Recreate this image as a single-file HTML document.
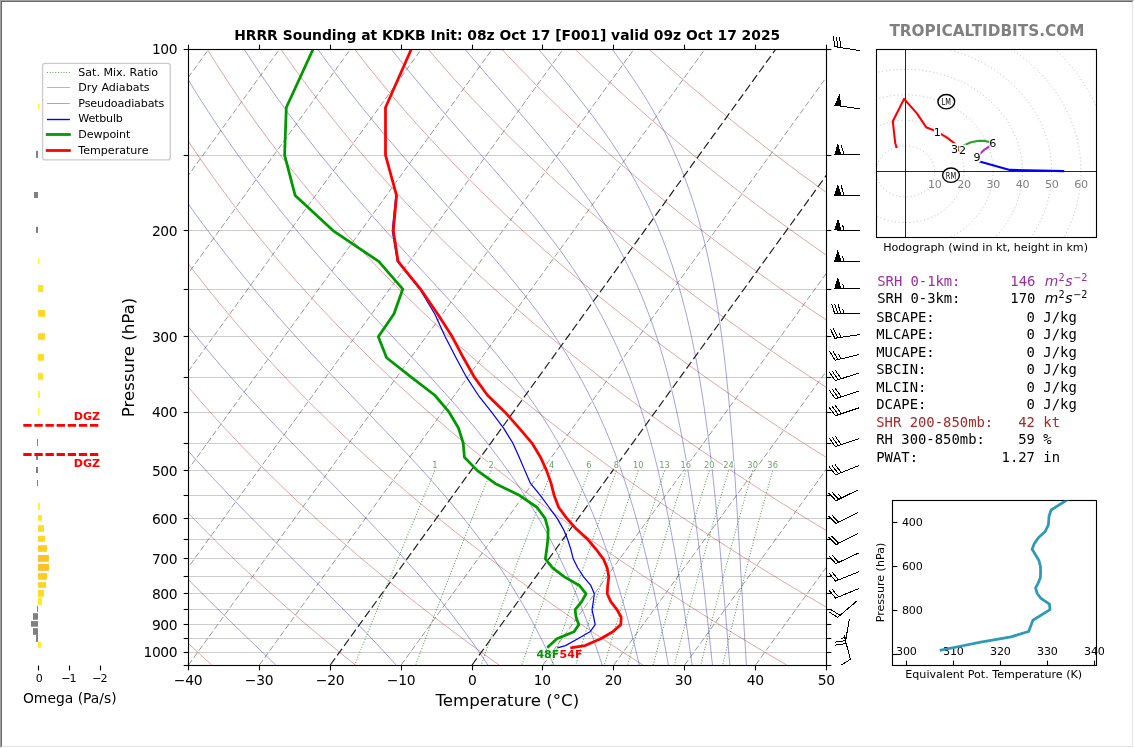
<!DOCTYPE html>
<html lang="en"><head><meta charset="utf-8"><title>HRRR Sounding at KDKB</title>
<style>
html,body{margin:0;padding:0;background:#fff}
body{width:1134px;height:748px;overflow:hidden;position:relative}
#frame{position:absolute;left:0;top:0;width:1132px;height:746px;border-top:1px solid #a0a0a0;border-left:1px solid #a0a0a0;border-right:1px solid #fff;border-bottom:1px solid #fff}
#frame2{position:absolute;left:1px;top:1px;width:1130px;height:744px;border-top:1px solid #696969;border-left:1px solid #696969;border-right:1px solid #e3e3e3;border-bottom:1px solid #e3e3e3}
svg{position:absolute;left:0;top:0;font-family:"DejaVu Sans","Liberation Sans",sans-serif}
</style></head><body>
<div id="frame"></div><div id="frame2"></div>
<svg width="1134" height="748" viewBox="0 0 1134 748">
<defs><clipPath id="cm"><rect x="188.5" y="49.5" width="638" height="616"/></clipPath></defs>
<g clip-path="url(#cm)" fill="none">
<line x1="188.5" y1="155.5" x2="826.5" y2="155.5" stroke="#cdcdcd" stroke-width="1"/>
<line x1="188.5" y1="230.5" x2="826.5" y2="230.5" stroke="#cdcdcd" stroke-width="1"/>
<line x1="188.5" y1="289.5" x2="826.5" y2="289.5" stroke="#cdcdcd" stroke-width="1"/>
<line x1="188.5" y1="336.5" x2="826.5" y2="336.5" stroke="#cdcdcd" stroke-width="1"/>
<line x1="188.5" y1="377.5" x2="826.5" y2="377.5" stroke="#cdcdcd" stroke-width="1"/>
<line x1="188.5" y1="412.5" x2="826.5" y2="412.5" stroke="#cdcdcd" stroke-width="1"/>
<line x1="188.5" y1="443.5" x2="826.5" y2="443.5" stroke="#cdcdcd" stroke-width="1"/>
<line x1="188.5" y1="470.5" x2="826.5" y2="470.5" stroke="#cdcdcd" stroke-width="1"/>
<line x1="188.5" y1="495.5" x2="826.5" y2="495.5" stroke="#cdcdcd" stroke-width="1"/>
<line x1="188.5" y1="518.5" x2="826.5" y2="518.5" stroke="#cdcdcd" stroke-width="1"/>
<line x1="188.5" y1="539.5" x2="826.5" y2="539.5" stroke="#cdcdcd" stroke-width="1"/>
<line x1="188.5" y1="558.5" x2="826.5" y2="558.5" stroke="#cdcdcd" stroke-width="1"/>
<line x1="188.5" y1="576.5" x2="826.5" y2="576.5" stroke="#cdcdcd" stroke-width="1"/>
<line x1="188.5" y1="593.5" x2="826.5" y2="593.5" stroke="#cdcdcd" stroke-width="1"/>
<line x1="188.5" y1="609.5" x2="826.5" y2="609.5" stroke="#cdcdcd" stroke-width="1"/>
<line x1="188.5" y1="624.5" x2="826.5" y2="624.5" stroke="#cdcdcd" stroke-width="1"/>
<line x1="188.5" y1="638.5" x2="826.5" y2="638.5" stroke="#cdcdcd" stroke-width="1"/>
<line x1="188.5" y1="652.5" x2="826.5" y2="652.5" stroke="#cdcdcd" stroke-width="1"/>
<line x1="-236.83" y1="665" x2="208.84" y2="49" stroke="#000" stroke-width="1" stroke-dasharray="6.17 2.67" stroke-opacity="0.4"/>
<line x1="-165.94" y1="665" x2="279.73" y2="49" stroke="#000" stroke-width="1" stroke-dasharray="6.17 2.67" stroke-opacity="0.4"/>
<line x1="-95.06" y1="665" x2="350.62" y2="49" stroke="#000" stroke-width="1" stroke-dasharray="6.17 2.67" stroke-opacity="0.4"/>
<line x1="-24.17" y1="665" x2="421.51" y2="49" stroke="#000" stroke-width="1" stroke-dasharray="6.17 2.67" stroke-opacity="0.4"/>
<line x1="46.72" y1="665" x2="492.4" y2="49" stroke="#000" stroke-width="1" stroke-dasharray="6.17 2.67" stroke-opacity="0.4"/>
<line x1="117.61" y1="665" x2="563.29" y2="49" stroke="#000" stroke-width="1" stroke-dasharray="6.17 2.67" stroke-opacity="0.4"/>
<line x1="188.5" y1="665" x2="634.18" y2="49" stroke="#000" stroke-width="1" stroke-dasharray="6.17 2.67" stroke-opacity="0.4"/>
<line x1="259.39" y1="665" x2="705.06" y2="49" stroke="#000" stroke-width="1" stroke-dasharray="6.17 2.67" stroke-opacity="0.4"/>
<line x1="330.28" y1="665" x2="775.95" y2="49" stroke="#000" stroke-width="1.2" stroke-dasharray="8.2 3.6" stroke-opacity="0.88"/>
<line x1="401.17" y1="665" x2="846.84" y2="49" stroke="#000" stroke-width="1" stroke-dasharray="6.17 2.67" stroke-opacity="0.4"/>
<line x1="472.06" y1="665" x2="917.73" y2="49" stroke="#000" stroke-width="1.2" stroke-dasharray="8.2 3.6" stroke-opacity="0.88"/>
<line x1="542.94" y1="665" x2="988.62" y2="49" stroke="#000" stroke-width="1" stroke-dasharray="6.17 2.67" stroke-opacity="0.4"/>
<line x1="613.83" y1="665" x2="1059.51" y2="49" stroke="#000" stroke-width="1" stroke-dasharray="6.17 2.67" stroke-opacity="0.4"/>
<line x1="684.72" y1="665" x2="1130.4" y2="49" stroke="#000" stroke-width="1" stroke-dasharray="6.17 2.67" stroke-opacity="0.4"/>
<line x1="755.61" y1="665" x2="1201.29" y2="49" stroke="#000" stroke-width="1" stroke-dasharray="6.17 2.67" stroke-opacity="0.4"/>
<line x1="826.5" y1="665" x2="1272.18" y2="49" stroke="#000" stroke-width="1" stroke-dasharray="6.17 2.67" stroke-opacity="0.4"/>
<path d="M-160.74 49 L-158.54 59.27 L-156.24 69.53 L-153.82 79.8 L-151.29 90.07 L-148.65 100.33 L-145.9 110.6 L-143.03 120.87 L-140.05 131.13 L-136.95 141.4 L-133.73 151.67 L-130.39 161.93 L-126.93 172.2 L-123.35 182.47 L-119.65 192.73 L-115.82 203 L-111.87 213.27 L-107.78 223.53 L-103.57 233.8 L-99.23 244.07 L-94.75 254.33 L-90.14 264.6 L-85.4 274.87 L-80.52 285.13 L-75.5 295.4 L-70.34 305.67 L-65.05 315.93 L-59.6 326.2 L-54.02 336.47 L-48.28 346.73 L-42.4 357 L-36.37 367.27 L-30.19 377.53 L-23.86 387.8 L-17.37 398.07 L-10.73 408.33 L-3.93 418.6 L3.04 428.87 L10.16 439.13 L17.45 449.4 L24.9 459.67 L32.52 469.93 L40.3 480.2 L48.26 490.47 L56.39 500.73 L64.7 511 L73.18 521.27 L81.84 531.53 L90.68 541.8 L99.71 552.07 L108.92 562.33 L118.31 572.6 L127.9 582.87 L137.67 593.13 L147.64 603.4 L157.8 613.67 L168.16 623.93 L178.72 634.2 L189.49 644.47 L200.45 654.73 L211.63 665" fill="none" stroke="#b22222" stroke-width="0.9" stroke-opacity="0.45"/>
<path d="M-87.16 49 L-84.13 59.27 L-80.99 69.53 L-77.72 79.8 L-74.34 90.07 L-70.84 100.33 L-67.21 110.6 L-63.46 120.87 L-59.59 131.13 L-55.58 141.4 L-51.45 151.67 L-47.19 161.93 L-42.8 172.2 L-38.27 182.47 L-33.62 192.73 L-28.82 203 L-23.89 213.27 L-18.82 223.53 L-13.61 233.8 L-8.26 244.07 L-2.76 254.33 L2.88 264.6 L8.67 274.87 L14.6 285.13 L20.69 295.4 L26.93 305.67 L33.32 315.93 L39.86 326.2 L46.57 336.47 L53.43 346.73 L60.45 357 L67.64 367.27 L74.98 377.53 L82.5 387.8 L90.18 398.07 L98.03 408.33 L106.05 418.6 L114.25 428.87 L122.62 439.13 L131.17 449.4 L139.9 459.67 L148.81 469.93 L157.9 480.2 L167.18 490.47 L176.64 500.73 L186.3 511 L196.15 521.27 L206.19 531.53 L216.42 541.8 L226.86 552.07 L237.5 562.33 L248.33 572.6 L259.38 582.87 L270.63 593.13 L282.09 603.4 L293.76 613.67 L305.65 623.93 L317.75 634.2 L330.07 644.47 L342.62 654.73 L355.39 665" fill="none" stroke="#b22222" stroke-width="0.9" stroke-opacity="0.45"/>
<path d="M-13.57 49 L-9.72 59.27 L-5.74 69.53 L-1.63 79.8 L2.61 90.07 L6.97 100.33 L11.47 110.6 L16.11 120.87 L20.88 131.13 L25.78 141.4 L30.83 151.67 L36.01 161.93 L41.34 172.2 L46.8 182.47 L52.42 192.73 L58.18 203 L64.09 213.27 L70.14 223.53 L76.35 233.8 L82.72 244.07 L89.23 254.33 L95.91 264.6 L102.74 274.87 L109.73 285.13 L116.88 295.4 L124.2 305.67 L131.68 315.93 L139.33 326.2 L147.15 336.47 L155.14 346.73 L163.31 357 L171.64 367.27 L180.16 377.53 L188.85 387.8 L197.73 398.07 L206.79 408.33 L216.03 418.6 L225.46 428.87 L235.08 439.13 L244.89 449.4 L254.9 459.67 L265.1 469.93 L275.5 480.2 L286.09 490.47 L296.89 500.73 L307.9 511 L319.11 521.27 L330.53 531.53 L342.16 541.8 L354.01 552.07 L366.07 562.33 L378.36 572.6 L390.86 582.87 L403.59 593.13 L416.54 603.4 L429.72 613.67 L443.13 623.93 L456.78 634.2 L470.66 644.47 L484.79 654.73 L499.15 665" fill="none" stroke="#b22222" stroke-width="0.9" stroke-opacity="0.45"/>
<path d="M60.02 49 L64.7 59.27 L69.51 69.53 L74.46 79.8 L79.55 90.07 L84.79 100.33 L90.16 110.6 L95.68 120.87 L101.34 131.13 L107.15 141.4 L113.1 151.67 L119.21 161.93 L125.47 172.2 L131.88 182.47 L138.45 192.73 L145.18 203 L152.06 213.27 L159.11 223.53 L166.32 233.8 L173.69 244.07 L181.22 254.33 L188.93 264.6 L196.81 274.87 L204.85 285.13 L213.08 295.4 L221.47 305.67 L230.05 315.93 L238.8 326.2 L247.74 336.47 L256.86 346.73 L266.16 357 L275.65 367.27 L285.34 377.53 L295.21 387.8 L305.28 398.07 L315.55 408.33 L326.01 418.6 L336.68 428.87 L347.54 439.13 L358.62 449.4 L369.9 459.67 L381.39 469.93 L393.09 480.2 L405.01 490.47 L417.14 500.73 L429.5 511 L442.08 521.27 L454.88 531.53 L467.91 541.8 L481.16 552.07 L494.65 562.33 L508.38 572.6 L522.34 582.87 L536.54 593.13 L550.99 603.4 L565.68 613.67 L580.62 623.93 L595.81 634.2 L611.25 644.47 L626.95 654.73 L642.91 665" fill="none" stroke="#b22222" stroke-width="0.9" stroke-opacity="0.45"/>
<path d="M133.61 49 L139.11 59.27 L144.76 69.53 L150.56 79.8 L156.5 90.07 L162.6 100.33 L168.84 110.6 L175.24 120.87 L181.8 131.13 L188.51 141.4 L195.38 151.67 L202.41 161.93 L209.61 172.2 L216.96 182.47 L224.49 192.73 L232.18 203 L240.04 213.27 L248.07 223.53 L256.28 233.8 L264.66 244.07 L273.22 254.33 L281.96 264.6 L290.88 274.87 L299.98 285.13 L309.27 295.4 L318.74 305.67 L328.41 315.93 L338.27 326.2 L348.32 336.47 L358.57 346.73 L369.02 357 L379.66 367.27 L390.51 377.53 L401.57 387.8 L412.83 398.07 L424.3 408.33 L435.99 418.6 L447.89 428.87 L460 439.13 L472.34 449.4 L484.9 459.67 L497.68 469.93 L510.69 480.2 L523.93 490.47 L537.39 500.73 L551.1 511 L565.04 521.27 L579.22 531.53 L593.65 541.8 L608.32 552.07 L623.23 562.33 L638.4 572.6 L653.82 582.87 L669.5 593.13 L685.44 603.4 L701.64 613.67 L718.1 623.93 L734.83 634.2 L751.84 644.47 L769.12 654.73 L786.67 665" fill="none" stroke="#b22222" stroke-width="0.9" stroke-opacity="0.45"/>
<path d="M207.2 49 L213.53 59.27 L220.01 69.53 L226.65 79.8 L233.45 90.07 L240.41 100.33 L247.53 110.6 L254.81 120.87 L262.26 131.13 L269.87 141.4 L277.66 151.67 L285.61 161.93 L293.74 172.2 L302.04 182.47 L310.52 192.73 L319.18 203 L328.01 213.27 L337.03 223.53 L346.24 233.8 L355.63 244.07 L365.21 254.33 L374.98 264.6 L384.95 274.87 L395.1 285.13 L405.46 295.4 L416.02 305.67 L426.77 315.93 L437.74 326.2 L448.91 336.47 L460.28 346.73 L471.87 357 L483.67 367.27 L495.69 377.53 L507.93 387.8 L520.38 398.07 L533.06 408.33 L545.97 418.6 L559.1 428.87 L572.47 439.13 L586.06 449.4 L599.9 459.67 L613.97 469.93 L628.28 480.2 L642.84 490.47 L657.65 500.73 L672.7 511 L688.01 521.27 L703.57 531.53 L719.39 541.8 L735.47 552.07 L751.81 562.33 L768.42 572.6 L785.3 582.87 L802.46 593.13 L819.89 603.4 L837.6 613.67 L855.59 623.93 L873.86 634.2 L892.43 644.47 L911.28 654.73 L930.43 665" fill="none" stroke="#b22222" stroke-width="0.9" stroke-opacity="0.45"/>
<path d="M280.79 49 L287.94 59.27 L295.26 69.53 L302.75 79.8 L310.4 90.07 L318.22 100.33 L326.21 110.6 L334.38 120.87 L342.72 131.13 L351.24 141.4 L359.94 151.67 L368.81 161.93 L377.87 172.2 L387.12 182.47 L396.55 192.73 L406.18 203 L415.99 213.27 L426 223.53 L436.2 233.8 L446.6 244.07 L457.2 254.33 L468.01 264.6 L479.01 274.87 L490.23 285.13 L501.65 295.4 L513.29 305.67 L525.14 315.93 L537.21 326.2 L549.49 336.47 L562 346.73 L574.73 357 L587.68 367.27 L600.87 377.53 L614.28 387.8 L627.93 398.07 L641.82 408.33 L655.95 418.6 L670.31 428.87 L684.93 439.13 L699.79 449.4 L714.9 459.67 L730.26 469.93 L745.88 480.2 L761.76 490.47 L777.9 500.73 L794.3 511 L810.97 521.27 L827.91 531.53 L845.13 541.8 L862.62 552.07 L880.39 562.33 L898.44 572.6 L916.79 582.87 L935.41 593.13 L954.34 603.4 L973.55 613.67 L993.07 623.93 L1012.89 634.2 L1033.01 644.47 L1053.45 654.73 L1074.2 665" fill="none" stroke="#b22222" stroke-width="0.9" stroke-opacity="0.45"/>
<path d="M354.37 49 L362.36 59.27 L370.51 69.53 L378.84 79.8 L387.35 90.07 L396.03 100.33 L404.9 110.6 L413.95 120.87 L423.18 131.13 L432.6 141.4 L442.21 151.67 L452.01 161.93 L462.01 172.2 L472.2 182.47 L482.59 192.73 L493.18 203 L503.97 213.27 L514.96 223.53 L526.16 233.8 L537.57 244.07 L549.2 254.33 L561.03 264.6 L573.08 274.87 L585.35 285.13 L597.85 295.4 L610.56 305.67 L623.5 315.93 L636.67 326.2 L650.07 336.47 L663.71 346.73 L677.58 357 L691.69 367.27 L706.04 377.53 L720.64 387.8 L735.48 398.07 L750.58 408.33 L765.93 418.6 L781.53 428.87 L797.39 439.13 L813.51 449.4 L829.9 459.67 L846.55 469.93 L863.48 480.2 L880.67 490.47 L898.15 500.73 L915.9 511 L933.94 521.27 L952.26 531.53 L970.87 541.8 L989.77 552.07 L1008.97 562.33 L1028.47 572.6 L1048.27 582.87 L1068.37 593.13 L1088.79 603.4 L1109.51 613.67 L1130.56 623.93 L1151.92 634.2 L1173.6 644.47 L1195.61 654.73 L1217.96 665" fill="none" stroke="#b22222" stroke-width="0.9" stroke-opacity="0.45"/>
<path d="M427.96 49 L436.77 59.27 L445.76 69.53 L454.93 79.8 L464.29 90.07 L473.84 100.33 L483.58 110.6 L493.52 120.87 L503.64 131.13 L513.97 141.4 L524.49 151.67 L535.22 161.93 L546.14 172.2 L557.28 182.47 L568.62 192.73 L580.18 203 L591.94 213.27 L603.92 223.53 L616.12 233.8 L628.55 244.07 L641.19 254.33 L654.06 264.6 L667.15 274.87 L680.48 285.13 L694.04 295.4 L707.83 305.67 L721.87 315.93 L736.14 326.2 L750.66 336.47 L765.42 346.73 L780.44 357 L795.7 367.27 L811.22 377.53 L827 387.8 L843.04 398.07 L859.34 408.33 L875.9 418.6 L892.74 428.87 L909.85 439.13 L927.23 449.4 L944.9 459.67 L962.84 469.93 L981.07 480.2 L999.59 490.47 L1018.4 500.73 L1037.5 511 L1056.9 521.27 L1076.6 531.53 L1096.61 541.8 L1116.92 552.07 L1137.55 562.33 L1158.49 572.6 L1179.75 582.87 L1201.33 593.13 L1223.24 603.4 L1245.47 613.67 L1268.04 623.93 L1290.95 634.2 L1314.19 644.47 L1337.78 654.73 L1361.72 665" fill="none" stroke="#b22222" stroke-width="0.9" stroke-opacity="0.45"/>
<path d="M501.55 49 L511.18 59.27 L521.01 69.53 L531.03 79.8 L541.24 90.07 L551.66 100.33 L562.27 110.6 L573.08 120.87 L584.1 131.13 L595.33 141.4 L606.77 151.67 L618.42 161.93 L630.28 172.2 L642.36 182.47 L654.66 192.73 L667.18 203 L679.92 213.27 L692.89 223.53 L706.09 233.8 L719.52 244.07 L733.18 254.33 L747.08 264.6 L761.22 274.87 L775.6 285.13 L790.23 295.4 L805.11 305.67 L820.23 315.93 L835.61 326.2 L851.24 336.47 L867.14 346.73 L883.29 357 L899.71 367.27 L916.4 377.53 L933.36 387.8 L950.59 398.07 L968.1 408.33 L985.88 418.6 L1003.95 428.87 L1022.31 439.13 L1040.96 449.4 L1059.9 459.67 L1079.13 469.93 L1098.67 480.2 L1118.5 490.47 L1138.65 500.73 L1159.1 511 L1179.87 521.27 L1200.95 531.53 L1222.35 541.8 L1244.08 552.07 L1266.13 562.33 L1288.51 572.6 L1311.23 582.87 L1334.29 593.13 L1357.69 603.4 L1381.43 613.67 L1405.52 623.93 L1429.97 634.2 L1454.78 644.47 L1479.95 654.73 L1505.48 665" fill="none" stroke="#b22222" stroke-width="0.9" stroke-opacity="0.45"/>
<path d="M575.14 49 L585.6 59.27 L596.26 69.53 L607.12 79.8 L618.19 90.07 L629.47 100.33 L640.95 110.6 L652.65 120.87 L664.57 131.13 L676.7 141.4 L689.05 151.67 L701.62 161.93 L714.41 172.2 L727.44 182.47 L740.69 192.73 L754.17 203 L767.89 213.27 L781.85 223.53 L796.05 233.8 L810.49 244.07 L825.17 254.33 L840.11 264.6 L855.29 274.87 L870.73 285.13 L886.42 295.4 L902.38 305.67 L918.6 315.93 L935.08 326.2 L951.83 336.47 L968.85 346.73 L986.15 357 L1003.72 367.27 L1021.57 377.53 L1039.71 387.8 L1058.14 398.07 L1076.85 408.33 L1095.86 418.6 L1115.17 428.87 L1134.77 439.13 L1154.68 449.4 L1174.9 459.67 L1195.42 469.93 L1216.26 480.2 L1237.42 490.47 L1258.9 500.73 L1280.7 511 L1302.83 521.27 L1325.29 531.53 L1348.09 541.8 L1371.23 552.07 L1394.71 562.33 L1418.53 572.6 L1442.71 582.87 L1467.24 593.13 L1492.13 603.4 L1517.39 613.67 L1543.01 623.93 L1569 634.2 L1595.37 644.47 L1622.11 654.73 L1649.24 665" fill="none" stroke="#b22222" stroke-width="0.9" stroke-opacity="0.45"/>
<path d="M648.73 49 L660.01 59.27 L671.51 69.53 L683.22 79.8 L695.14 90.07 L707.28 100.33 L719.64 110.6 L732.22 120.87 L745.03 131.13 L758.06 141.4 L771.32 151.67 L784.82 161.93 L798.55 172.2 L812.52 182.47 L826.72 192.73 L841.17 203 L855.87 213.27 L870.81 223.53 L886.01 233.8 L901.46 244.07 L917.17 254.33 L933.13 264.6 L949.36 274.87 L965.85 285.13 L982.62 295.4 L999.65 305.67 L1016.96 315.93 L1034.55 326.2 L1052.41 336.47 L1070.56 346.73 L1089 357 L1107.73 367.27 L1126.75 377.53 L1146.07 387.8 L1165.69 398.07 L1185.61 408.33 L1205.84 418.6 L1226.38 428.87 L1247.23 439.13 L1268.41 449.4 L1289.9 459.67 L1311.71 469.93 L1333.86 480.2 L1356.34 490.47 L1379.15 500.73 L1402.3 511 L1425.8 521.27 L1449.64 531.53 L1473.83 541.8 L1498.38 552.07 L1523.29 562.33 L1548.56 572.6 L1574.19 582.87 L1600.2 593.13 L1626.58 603.4 L1653.35 613.67 L1680.49 623.93 L1708.03 634.2 L1735.96 644.47 L1764.28 654.73 L1793 665" fill="none" stroke="#b22222" stroke-width="0.9" stroke-opacity="0.45"/>
<path d="M-123.95 49 L-121.41 59.27 L-118.75 69.53 L-115.98 79.8 L-113.09 90.07 L-110.08 100.33 L-106.95 110.6 L-103.7 120.87 L-100.32 131.13 L-96.82 141.4 L-93.2 151.67 L-89.45 161.93 L-85.56 172.2 L-81.55 182.47 L-77.41 192.73 L-73.14 203 L-68.73 213.27 L-64.18 223.53 L-59.5 233.8 L-54.68 244.07 L-49.72 254.33 L-44.62 264.6 L-39.38 274.87 L-33.99 285.13 L-28.45 295.4 L-22.77 305.67 L-16.94 315.93 L-10.96 326.2 L-4.82 336.47 L1.47 346.73 L7.91 357 L14.52 367.27 L21.28 377.53 L28.2 387.8 L35.28 398.07 L42.53 408.33 L49.94 418.6 L57.52 428.87 L65.27 439.13 L73.19 449.4 L81.28 459.67 L89.53 469.93 L97.97 480.2 L106.57 490.47 L115.34 500.73 L124.29 511 L133.41 521.27 L142.7 531.53 L152.15 541.8 L161.77 552.07 L171.54 562.33 L181.47 572.6 L191.54 582.87 L201.74 593.13 L212.07 603.4 L222.51 613.67 L233.03 623.93 L243.64 634.2 L254.3 644.47 L264.99 654.73 L275.69 665" fill="none" stroke="#1a1ab4" stroke-width="1" stroke-opacity="0.4"/>
<path d="M-50.36 49 L-46.99 59.27 L-43.49 69.53 L-39.87 79.8 L-36.12 90.07 L-32.24 100.33 L-28.23 110.6 L-24.09 120.87 L-19.82 131.13 L-15.41 141.4 L-10.87 151.67 L-6.19 161.93 L-1.37 172.2 L3.59 182.47 L8.7 192.73 L13.94 203 L19.33 213.27 L24.87 223.53 L30.55 233.8 L36.39 244.07 L42.37 254.33 L48.51 264.6 L54.81 274.87 L61.25 285.13 L67.86 295.4 L74.63 305.67 L81.55 315.93 L88.64 326.2 L95.89 336.47 L103.31 346.73 L110.9 357 L118.65 367.27 L126.57 377.53 L134.66 387.8 L142.92 398.07 L151.36 408.33 L159.96 418.6 L168.73 428.87 L177.67 439.13 L186.78 449.4 L196.05 459.67 L205.48 469.93 L215.06 480.2 L224.79 490.47 L234.65 500.73 L244.65 511 L254.75 521.27 L264.96 531.53 L275.25 541.8 L285.6 552.07 L295.99 562.33 L306.39 572.6 L316.78 582.87 L327.13 593.13 L337.41 603.4 L347.6 613.67 L357.65 623.93 L367.55 634.2 L377.26 644.47 L386.77 654.73 L396.06 665" fill="none" stroke="#1a1ab4" stroke-width="1" stroke-opacity="0.4"/>
<path d="M23.23 49 L27.42 59.27 L31.74 69.53 L36.2 79.8 L40.8 90.07 L45.53 100.33 L50.41 110.6 L55.42 120.87 L60.58 131.13 L65.89 141.4 L71.34 151.67 L76.94 161.93 L82.69 172.2 L88.59 182.47 L94.64 192.73 L100.84 203 L107.21 213.27 L113.73 223.53 L120.4 233.8 L127.24 244.07 L134.24 254.33 L141.4 264.6 L148.73 274.87 L156.23 285.13 L163.89 295.4 L171.72 305.67 L179.72 315.93 L187.88 326.2 L196.22 336.47 L204.72 346.73 L213.4 357 L222.23 367.27 L231.23 377.53 L240.39 387.8 L249.7 398.07 L259.16 408.33 L268.76 418.6 L278.48 428.87 L288.32 439.13 L298.26 449.4 L308.29 459.67 L318.37 469.93 L328.5 480.2 L338.63 490.47 L348.76 500.73 L358.84 511 L368.85 521.27 L378.75 531.53 L388.52 541.8 L398.12 552.07 L407.54 562.33 L416.74 572.6 L425.7 582.87 L434.42 593.13 L442.87 603.4 L451.05 613.67 L458.95 623.93 L466.57 634.2 L473.91 644.47 L480.99 654.73 L487.79 665" fill="none" stroke="#1a1ab4" stroke-width="1" stroke-opacity="0.4"/>
<path d="M96.81 49 L101.82 59.27 L106.96 69.53 L112.25 79.8 L117.69 90.07 L123.27 100.33 L129.01 110.6 L134.9 120.87 L140.94 131.13 L147.13 141.4 L153.49 151.67 L160 161.93 L166.67 172.2 L173.5 182.47 L180.49 192.73 L187.65 203 L194.97 213.27 L202.46 223.53 L210.11 233.8 L217.94 244.07 L225.93 254.33 L234.09 264.6 L242.41 274.87 L250.9 285.13 L259.56 295.4 L268.38 305.67 L277.35 315.93 L286.47 326.2 L295.74 336.47 L305.15 346.73 L314.67 357 L324.31 367.27 L334.04 377.53 L343.85 387.8 L353.71 398.07 L363.61 408.33 L373.5 418.6 L383.37 428.87 L393.17 439.13 L402.89 449.4 L412.49 459.67 L421.93 469.93 L431.2 480.2 L440.25 490.47 L449.07 500.73 L457.64 511 L465.94 521.27 L473.97 531.53 L481.71 541.8 L489.16 552.07 L496.32 562.33 L503.2 572.6 L509.8 582.87 L516.13 593.13 L522.2 603.4 L528.02 613.67 L533.6 623.93 L538.96 634.2 L544.1 644.47 L549.04 654.73 L553.79 665" fill="none" stroke="#1a1ab4" stroke-width="1" stroke-opacity="0.4"/>
<path d="M170.4 49 L176.21 59.27 L182.17 69.53 L188.29 79.8 L194.56 90.07 L201 100.33 L207.59 110.6 L214.34 120.87 L221.26 131.13 L228.34 141.4 L235.58 151.67 L242.99 161.93 L250.57 172.2 L258.31 182.47 L266.22 192.73 L274.3 203 L282.54 213.27 L290.95 223.53 L299.52 233.8 L308.24 244.07 L317.12 254.33 L326.15 264.6 L335.31 274.87 L344.59 285.13 L353.99 295.4 L363.49 305.67 L373.06 315.93 L382.7 326.2 L392.36 336.47 L402.03 346.73 L411.68 357 L421.26 367.27 L430.76 377.53 L440.14 387.8 L449.36 398.07 L458.4 408.33 L467.22 418.6 L475.8 428.87 L484.13 439.13 L492.18 449.4 L499.94 459.67 L507.41 469.93 L514.58 480.2 L521.46 490.47 L528.04 500.73 L534.34 511 L540.36 521.27 L546.11 531.53 L551.61 541.8 L556.87 552.07 L561.89 562.33 L566.7 572.6 L571.3 582.87 L575.71 593.13 L579.94 603.4 L584 613.67 L587.9 623.93 L591.66 634.2 L595.27 644.47 L598.76 654.73 L602.14 665" fill="none" stroke="#1a1ab4" stroke-width="1" stroke-opacity="0.4"/>
<path d="M243.99 49 L250.65 59.27 L257.47 69.53 L264.46 79.8 L271.61 90.07 L278.92 100.33 L286.4 110.6 L294.04 120.87 L301.85 131.13 L309.82 141.4 L317.95 151.67 L326.25 161.93 L334.71 172.2 L343.32 182.47 L352.08 192.73 L360.97 203 L370.01 213.27 L379.16 223.53 L388.41 233.8 L397.76 244.07 L407.17 254.33 L416.62 264.6 L426.1 274.87 L435.56 285.13 L444.98 295.4 L454.32 305.67 L463.56 315.93 L472.64 326.2 L481.55 336.47 L490.26 346.73 L498.72 357 L506.93 367.27 L514.86 377.53 L522.5 387.8 L529.84 398.07 L536.88 408.33 L543.61 418.6 L550.03 428.87 L556.17 439.13 L562.01 449.4 L567.58 459.67 L572.88 469.93 L577.93 480.2 L582.74 490.47 L587.33 500.73 L591.7 511 L595.87 521.27 L599.85 531.53 L603.65 541.8 L607.3 552.07 L610.79 562.33 L614.13 572.6 L617.35 582.87 L620.44 593.13 L623.42 603.4 L626.3 613.67 L629.07 623.93 L631.76 634.2 L634.37 644.47 L636.89 654.73 L639.35 665" fill="none" stroke="#1a1ab4" stroke-width="1" stroke-opacity="0.4"/>
<path d="M317.58 49 L325.01 59.27 L332.61 69.53 L340.37 79.8 L348.29 90.07 L356.38 100.33 L364.62 110.6 L373.02 120.87 L381.57 131.13 L390.26 141.4 L399.09 151.67 L408.03 161.93 L417.08 172.2 L426.22 182.47 L435.43 192.73 L444.68 203 L453.95 213.27 L463.21 223.53 L472.42 233.8 L481.56 244.07 L490.58 254.33 L499.45 264.6 L508.13 274.87 L516.6 285.13 L524.83 295.4 L532.79 305.67 L540.47 315.93 L547.85 326.2 L554.91 336.47 L561.67 346.73 L568.12 357 L574.26 367.27 L580.09 377.53 L585.64 387.8 L590.91 398.07 L595.91 408.33 L600.65 418.6 L605.15 428.87 L609.43 439.13 L613.49 449.4 L617.35 459.67 L621.02 469.93 L624.52 480.2 L627.86 490.47 L631.04 500.73 L634.08 511 L636.99 521.27 L639.78 531.53 L642.45 541.8 L645.02 552.07 L647.49 562.33 L649.88 572.6 L652.18 582.87 L654.41 593.13 L656.57 603.4 L658.66 613.67 L660.69 623.93 L662.68 634.2 L664.61 644.47 L666.5 654.73 L668.35 665" fill="none" stroke="#1a1ab4" stroke-width="1" stroke-opacity="0.4"/>
<path d="M391.17 49 L399.31 59.27 L407.61 69.53 L416.05 79.8 L424.63 90.07 L433.33 100.33 L442.15 110.6 L451.06 120.87 L460.05 131.13 L469.09 141.4 L478.16 151.67 L487.22 161.93 L496.25 172.2 L505.21 182.47 L514.07 192.73 L522.78 203 L531.31 213.27 L539.63 223.53 L547.71 233.8 L555.52 244.07 L563.05 254.33 L570.27 264.6 L577.18 274.87 L583.77 285.13 L590.05 295.4 L596.01 305.67 L601.66 315.93 L607.02 326.2 L612.09 336.47 L616.88 346.73 L621.42 357 L625.7 367.27 L629.76 377.53 L633.6 387.8 L637.23 398.07 L640.67 408.33 L643.94 418.6 L647.03 428.87 L649.98 439.13 L652.77 449.4 L655.44 459.67 L657.98 469.93 L660.41 480.2 L662.73 490.47 L664.95 500.73 L667.08 511 L669.13 521.27 L671.1 531.53 L673 541.8 L674.84 552.07 L676.62 562.33 L678.34 572.6 L680.01 582.87 L681.64 593.13 L683.22 603.4 L684.77 613.67 L686.29 623.93 L687.78 634.2 L689.24 644.47 L690.68 654.73 L692.09 665" fill="none" stroke="#1a1ab4" stroke-width="1" stroke-opacity="0.4"/>
<path d="M464.76 49 L473.48 59.27 L482.29 69.53 L491.16 79.8 L500.07 90.07 L508.99 100.33 L517.89 110.6 L526.73 120.87 L535.48 131.13 L544.09 141.4 L552.54 151.67 L560.79 161.93 L568.8 172.2 L576.55 182.47 L584.01 192.73 L591.17 203 L598.01 213.27 L604.53 223.53 L610.72 233.8 L616.59 244.07 L622.15 254.33 L627.39 264.6 L632.35 274.87 L637.01 285.13 L641.41 295.4 L645.55 305.67 L649.46 315.93 L653.13 326.2 L656.6 336.47 L659.86 346.73 L662.95 357 L665.86 367.27 L668.61 377.53 L671.21 387.8 L673.68 398.07 L676.01 408.33 L678.23 418.6 L680.34 428.87 L682.35 439.13 L684.26 449.4 L686.09 459.67 L687.84 469.93 L689.51 480.2 L691.12 490.47 L692.66 500.73 L694.15 511 L695.59 521.27 L696.98 531.53 L698.33 541.8 L699.64 552.07 L700.91 562.33 L702.15 572.6 L703.37 582.87 L704.56 593.13 L705.73 603.4 L706.88 613.67 L708.01 623.93 L709.13 634.2 L710.24 644.47 L711.34 654.73 L712.44 665" fill="none" stroke="#1a1ab4" stroke-width="1" stroke-opacity="0.4"/>
<path d="M538.34 49 L547 59.27 L555.59 69.53 L564.07 79.8 L572.41 90.07 L580.57 100.33 L588.52 110.6 L596.22 120.87 L603.64 131.13 L610.76 141.4 L617.58 151.67 L624.06 161.93 L630.22 172.2 L636.05 182.47 L641.56 192.73 L646.75 203 L651.64 213.27 L656.23 223.53 L660.54 233.8 L664.58 244.07 L668.37 254.33 L671.93 264.6 L675.27 274.87 L678.4 285.13 L681.34 295.4 L684.1 305.67 L686.7 315.93 L689.13 326.2 L691.43 336.47 L693.59 346.73 L695.63 357 L697.56 367.27 L699.38 377.53 L701.1 387.8 L702.73 398.07 L704.28 408.33 L705.76 418.6 L707.16 428.87 L708.5 439.13 L709.78 449.4 L711.01 459.67 L712.19 469.93 L713.32 480.2 L714.41 490.47 L715.46 500.73 L716.49 511 L717.48 521.27 L718.45 531.53 L719.39 541.8 L720.31 552.07 L721.22 562.33 L722.1 572.6 L722.98 582.87 L723.85 593.13 L724.71 603.4 L725.56 613.67 L726.41 623.93 L727.26 634.2 L728.11 644.47 L728.95 654.73 L729.81 665" fill="none" stroke="#1a1ab4" stroke-width="1" stroke-opacity="0.4"/>
<path d="M611.93 49 L619.53 59.27 L626.87 69.53 L633.9 79.8 L640.62 90.07 L647.02 100.33 L653.07 110.6 L658.8 120.87 L664.19 131.13 L669.26 141.4 L674.01 151.67 L678.46 161.93 L682.63 172.2 L686.51 182.47 L690.15 192.73 L693.54 203 L696.7 213.27 L699.65 223.53 L702.4 233.8 L704.97 244.07 L707.37 254.33 L709.61 264.6 L711.7 274.87 L713.66 285.13 L715.49 295.4 L717.2 305.67 L718.81 315.93 L720.32 326.2 L721.73 336.47 L723.06 346.73 L724.31 357 L725.49 367.27 L726.61 377.53 L727.66 387.8 L728.66 398.07 L729.61 408.33 L730.51 418.6 L731.37 428.87 L732.19 439.13 L732.98 449.4 L733.74 459.67 L734.47 469.93 L735.17 480.2 L735.85 490.47 L736.52 500.73 L737.17 511 L737.8 521.27 L738.43 531.53 L739.04 541.8 L739.65 552.07 L740.25 562.33 L740.85 572.6 L741.45 582.87 L742.05 593.13 L742.65 603.4 L743.26 613.67 L743.87 623.93 L744.49 634.2 L745.11 644.47 L745.75 654.73 L746.4 665" fill="none" stroke="#1a1ab4" stroke-width="1" stroke-opacity="0.4"/>
<path d="M434.79 470.63 L430.68 480.35 L426.58 490.07 L422.5 499.79 L418.42 509.51 L414.35 519.22 L410.3 528.94 L406.26 538.66 L402.22 548.38 L398.2 558.1 L394.2 567.82 L390.2 577.53 L386.21 587.25 L382.24 596.97 L378.28 606.69 L374.33 616.41 L370.39 626.13 L366.46 635.84 L362.55 645.56 L358.65 655.28 L354.76 665" fill="none" stroke="#006400" stroke-width="1.04" stroke-dasharray="1.04 1.72" stroke-opacity="0.62"/>
<path d="M491.12 470.63 L487.23 480.35 L483.35 490.07 L479.48 499.79 L475.62 509.51 L471.78 519.22 L467.94 528.94 L464.13 538.66 L460.32 548.38 L456.53 558.1 L452.75 567.82 L448.98 577.53 L445.22 587.25 L441.48 596.97 L437.75 606.69 L434.04 616.41 L430.34 626.13 L426.65 635.84 L422.98 645.56 L419.32 655.28 L415.67 665" fill="none" stroke="#006400" stroke-width="1.04" stroke-dasharray="1.04 1.72" stroke-opacity="0.62"/>
<path d="M551.55 470.63 L547.9 480.35 L544.26 490.07 L540.64 499.79 L537.03 509.51 L533.43 519.22 L529.85 528.94 L526.28 538.66 L522.72 548.38 L519.18 558.1 L515.66 567.82 L512.15 577.53 L508.65 587.25 L505.17 596.97 L501.7 606.69 L498.25 616.41 L494.81 626.13 L491.39 635.84 L487.98 645.56 L484.59 655.28 L481.21 665" fill="none" stroke="#006400" stroke-width="1.04" stroke-dasharray="1.04 1.72" stroke-opacity="0.62"/>
<path d="M588.94 470.63 L585.44 480.35 L581.96 490.07 L578.49 499.79 L575.03 509.51 L571.59 519.22 L568.17 528.94 L564.76 538.66 L561.36 548.38 L557.98 558.1 L554.62 567.82 L551.27 577.53 L547.94 587.25 L544.62 596.97 L541.32 606.69 L538.04 616.41 L534.77 626.13 L531.52 635.84 L528.28 645.56 L525.06 655.28 L521.86 665" fill="none" stroke="#006400" stroke-width="1.04" stroke-dasharray="1.04 1.72" stroke-opacity="0.62"/>
<path d="M616.41 470.63 L613.02 480.35 L609.66 490.07 L606.3 499.79 L602.97 509.51 L599.64 519.22 L596.34 528.94 L593.05 538.66 L589.77 548.38 L586.52 558.1 L583.27 567.82 L580.05 577.53 L576.84 587.25 L573.65 596.97 L570.47 606.69 L567.31 616.41 L564.17 626.13 L561.04 635.84 L557.94 645.56 L554.85 655.28 L551.77 665" fill="none" stroke="#006400" stroke-width="1.04" stroke-dasharray="1.04 1.72" stroke-opacity="0.62"/>
<path d="M638.26 470.63 L634.97 480.35 L631.7 490.07 L628.44 499.79 L625.19 509.51 L621.97 519.22 L618.76 528.94 L615.56 538.66 L612.39 548.38 L609.23 558.1 L606.08 567.82 L602.96 577.53 L599.85 587.25 L596.76 596.97 L593.68 606.69 L590.62 616.41 L587.58 626.13 L584.56 635.84 L581.56 645.56 L578.57 655.28 L575.6 665" fill="none" stroke="#006400" stroke-width="1.04" stroke-dasharray="1.04 1.72" stroke-opacity="0.62"/>
<path d="M664.57 470.63 L661.39 480.35 L658.23 490.07 L655.09 499.79 L651.96 509.51 L648.85 519.22 L645.76 528.94 L642.68 538.66 L639.62 548.38 L636.58 558.1 L633.56 567.82 L630.55 577.53 L627.57 587.25 L624.6 596.97 L621.64 606.69 L618.71 616.41 L615.8 626.13 L612.9 635.84 L610.02 645.56 L607.16 655.28 L604.32 665" fill="none" stroke="#006400" stroke-width="1.04" stroke-dasharray="1.04 1.72" stroke-opacity="0.62"/>
<path d="M685.86 470.63 L682.77 480.35 L679.7 490.07 L676.65 499.79 L673.62 509.51 L670.61 519.22 L667.61 528.94 L664.63 538.66 L661.67 548.38 L658.73 558.1 L655.8 567.82 L652.89 577.53 L650.01 587.25 L647.14 596.97 L644.29 606.69 L641.46 616.41 L638.64 626.13 L635.85 635.84 L633.08 645.56 L630.32 655.28 L627.59 665" fill="none" stroke="#006400" stroke-width="1.04" stroke-dasharray="1.04 1.72" stroke-opacity="0.62"/>
<path d="M709.18 470.63 L706.19 480.35 L703.23 490.07 L700.29 499.79 L697.36 509.51 L694.45 519.22 L691.56 528.94 L688.69 538.66 L685.83 548.38 L683 558.1 L680.18 567.82 L677.39 577.53 L674.61 587.25 L671.85 596.97 L669.12 606.69 L666.4 616.41 L663.7 626.13 L661.02 635.84 L658.36 645.56 L655.73 655.28 L653.11 665" fill="none" stroke="#006400" stroke-width="1.04" stroke-dasharray="1.04 1.72" stroke-opacity="0.62"/>
<path d="M728.56 470.63 L725.67 480.35 L722.79 490.07 L719.93 499.79 L717.09 509.51 L714.27 519.22 L711.47 528.94 L708.69 538.66 L705.93 548.38 L703.19 558.1 L700.46 567.82 L697.76 577.53 L695.08 587.25 L692.41 596.97 L689.77 606.69 L687.15 616.41 L684.55 626.13 L681.96 635.84 L679.4 645.56 L676.86 655.28 L674.34 665" fill="none" stroke="#006400" stroke-width="1.04" stroke-dasharray="1.04 1.72" stroke-opacity="0.62"/>
<path d="M752.67 470.63 L749.88 480.35 L747.12 490.07 L744.37 499.79 L741.64 509.51 L738.93 519.22 L736.24 528.94 L733.58 538.66 L730.93 548.38 L728.3 558.1 L725.69 567.82 L723.11 577.53 L720.54 587.25 L718 596.97 L715.47 606.69 L712.97 616.41 L710.49 626.13 L708.03 635.84 L705.59 645.56 L703.18 655.28 L700.78 665" fill="none" stroke="#006400" stroke-width="1.04" stroke-dasharray="1.04 1.72" stroke-opacity="0.62"/>
<path d="M772.65 470.63 L769.96 480.35 L767.28 490.07 L764.63 499.79 L761.99 509.51 L759.38 519.22 L756.79 528.94 L754.21 538.66 L751.66 548.38 L749.13 558.1 L746.62 567.82 L744.13 577.53 L741.67 587.25 L739.22 596.97 L736.8 606.69 L734.4 616.41 L732.02 626.13 L729.66 635.84 L727.32 645.56 L725.01 655.28 L722.72 665" fill="none" stroke="#006400" stroke-width="1.04" stroke-dasharray="1.04 1.72" stroke-opacity="0.62"/>
<rect x="431.79" y="461" width="6" height="8.4" fill="#fff" stroke="none"/>
<text x="434.79" y="468.2" font-size="8.33" text-anchor="middle" fill="#006400" fill-opacity="0.6" stroke="none">1</text>
<rect x="488.12" y="461" width="6" height="8.4" fill="#fff" stroke="none"/>
<text x="491.12" y="468.2" font-size="8.33" text-anchor="middle" fill="#006400" fill-opacity="0.6" stroke="none">2</text>
<rect x="548.55" y="461" width="6" height="8.4" fill="#fff" stroke="none"/>
<text x="551.55" y="468.2" font-size="8.33" text-anchor="middle" fill="#006400" fill-opacity="0.6" stroke="none">4</text>
<rect x="585.94" y="461" width="6" height="8.4" fill="#fff" stroke="none"/>
<text x="588.94" y="468.2" font-size="8.33" text-anchor="middle" fill="#006400" fill-opacity="0.6" stroke="none">6</text>
<rect x="613.41" y="461" width="6" height="8.4" fill="#fff" stroke="none"/>
<text x="616.41" y="468.2" font-size="8.33" text-anchor="middle" fill="#006400" fill-opacity="0.6" stroke="none">8</text>
<rect x="632.61" y="461" width="11.3" height="8.4" fill="#fff" stroke="none"/>
<text x="638.26" y="468.2" font-size="8.33" text-anchor="middle" fill="#006400" fill-opacity="0.6" stroke="none">10</text>
<rect x="658.92" y="461" width="11.3" height="8.4" fill="#fff" stroke="none"/>
<text x="664.57" y="468.2" font-size="8.33" text-anchor="middle" fill="#006400" fill-opacity="0.6" stroke="none">13</text>
<rect x="680.21" y="461" width="11.3" height="8.4" fill="#fff" stroke="none"/>
<text x="685.86" y="468.2" font-size="8.33" text-anchor="middle" fill="#006400" fill-opacity="0.6" stroke="none">16</text>
<rect x="703.53" y="461" width="11.3" height="8.4" fill="#fff" stroke="none"/>
<text x="709.18" y="468.2" font-size="8.33" text-anchor="middle" fill="#006400" fill-opacity="0.6" stroke="none">20</text>
<rect x="722.91" y="461" width="11.3" height="8.4" fill="#fff" stroke="none"/>
<text x="728.56" y="468.2" font-size="8.33" text-anchor="middle" fill="#006400" fill-opacity="0.6" stroke="none">24</text>
<rect x="747.02" y="461" width="11.3" height="8.4" fill="#fff" stroke="none"/>
<text x="752.67" y="468.2" font-size="8.33" text-anchor="middle" fill="#006400" fill-opacity="0.6" stroke="none">30</text>
<rect x="767" y="461" width="11.3" height="8.4" fill="#fff" stroke="none"/>
<text x="772.65" y="468.2" font-size="8.33" text-anchor="middle" fill="#006400" fill-opacity="0.6" stroke="none">36</text>
</g>
<g clip-path="url(#cm)" fill="none" stroke-linejoin="round">
<path d="M395.8 195.6 L392.3 230.59 L397.3 261.44 L419.7 289.04 L434.8 314.01 L445.2 336.81 L456 357.78 L466.5 377.19 L478.3 395.27 L491.6 412.17 L503.6 428.06 L512.8 443.03 L519.2 457.19 L524.9 470.63 L530.5 483.41 L540.5 495.6 L549 507.25 L557.2 518.4 L563.3 529.09 L567.6 539.36 L570.8 549.25 L573.2 558.78 L577.8 567.97 L583.6 576.85 L590.8 585.44 L594.3 593.76 L593.3 601.82 L592 609.64 L593.7 617.24 L595.2 624.62 L590 631.79 L577.8 638.78 L565.5 645.59 L557.4 647.81" fill="none" stroke="#0000ff" stroke-width="1.25"/>
<path d="M313.2 49 L286.3 107.46 L284.6 155.22 L295.2 195.6 L333 230.59 L378.7 261.44 L402.8 289.04 L393.9 314.01 L378.3 336.81 L386.6 357.78 L411.2 377.19 L434.8 395.27 L449.1 412.17 L458.5 428.06 L463.2 443.03 L464.4 457.19 L477.4 470.63 L495.1 483.41 L519.8 495.6 L536.9 507.25 L545.1 518.4 L548.1 529.09 L547.9 539.36 L546.7 549.25 L545.4 558.78 L552.6 567.97 L564.4 576.85 L579.4 585.44 L586.1 593.76 L581.5 601.82 L575.1 609.64 L576.1 617.24 L578.8 624.62 L574 631.79 L556.9 638.78 L549.5 645.59 L547.3 647.81" fill="none" stroke="#009900" stroke-width="2.78"/>
<path d="M411.4 49 L385.5 107.46 L385.5 155.22 L396.6 195.6 L393.3 230.59 L398.1 261.44 L420.5 289.04 L437.7 314.01 L452.3 336.81 L463.4 357.78 L474.4 377.19 L487.5 395.27 L505 412.17 L519.2 428.06 L532 443.03 L540.5 457.19 L546.6 470.63 L551.1 483.41 L554.2 495.6 L558.6 507.25 L566.8 518.4 L576.5 529.09 L587.7 539.36 L596 549.25 L603.3 558.78 L607.2 567.97 L608.8 576.85 L607.7 585.44 L607.2 593.76 L610.9 601.82 L617 609.64 L621.2 617.24 L620.8 624.62 L612.8 631.79 L600.7 638.78 L585.2 645.59 L570.3 647.81" fill="none" stroke="#ff0000" stroke-width="2.78"/>
</g>
<text transform="translate(547.8 657.6) scale(1 0.93)" font-size="11" font-weight="bold" text-anchor="middle" fill="#009900">48F</text>
<text transform="translate(571.0 657.6) scale(1 0.93)" font-size="11" font-weight="bold" text-anchor="middle" fill="#ff0000">54F</text>
<rect x="188.5" y="49.5" width="638" height="616" fill="none" stroke="#000" stroke-width="1.11"/>
<line x1="188.5" y1="665.5" x2="188.5" y2="670.36" stroke="#000" stroke-width="1.11"/>
<line x1="188.5" y1="49.5" x2="188.5" y2="44.64" stroke="#000" stroke-width="1.11"/>
<text x="188.05" y="684.9" font-size="13.89" text-anchor="middle" fill="#000" letter-spacing="-0.3">−40</text>
<line x1="259.5" y1="665.5" x2="259.5" y2="670.36" stroke="#000" stroke-width="1.11"/>
<line x1="259.5" y1="49.5" x2="259.5" y2="44.64" stroke="#000" stroke-width="1.11"/>
<text x="259.05" y="684.9" font-size="13.89" text-anchor="middle" fill="#000" letter-spacing="-0.3">−30</text>
<line x1="330.5" y1="665.5" x2="330.5" y2="670.36" stroke="#000" stroke-width="1.11"/>
<line x1="330.5" y1="49.5" x2="330.5" y2="44.64" stroke="#000" stroke-width="1.11"/>
<text x="330.05" y="684.9" font-size="13.89" text-anchor="middle" fill="#000" letter-spacing="-0.3">−20</text>
<line x1="401.5" y1="665.5" x2="401.5" y2="670.36" stroke="#000" stroke-width="1.11"/>
<line x1="401.5" y1="49.5" x2="401.5" y2="44.64" stroke="#000" stroke-width="1.11"/>
<text x="401.05" y="684.9" font-size="13.89" text-anchor="middle" fill="#000" letter-spacing="-0.3">−10</text>
<line x1="472.5" y1="665.5" x2="472.5" y2="670.36" stroke="#000" stroke-width="1.11"/>
<line x1="472.5" y1="49.5" x2="472.5" y2="44.64" stroke="#000" stroke-width="1.11"/>
<text x="472.35" y="684.9" font-size="13.89" text-anchor="middle" fill="#000" letter-spacing="-0.3">0</text>
<line x1="542.5" y1="665.5" x2="542.5" y2="670.36" stroke="#000" stroke-width="1.11"/>
<line x1="542.5" y1="49.5" x2="542.5" y2="44.64" stroke="#000" stroke-width="1.11"/>
<text x="542.2" y="684.9" font-size="13.89" text-anchor="middle" fill="#000" letter-spacing="-0.3">10</text>
<line x1="613.5" y1="665.5" x2="613.5" y2="670.36" stroke="#000" stroke-width="1.11"/>
<line x1="613.5" y1="49.5" x2="613.5" y2="44.64" stroke="#000" stroke-width="1.11"/>
<text x="613.2" y="684.9" font-size="13.89" text-anchor="middle" fill="#000" letter-spacing="-0.3">20</text>
<line x1="684.5" y1="665.5" x2="684.5" y2="670.36" stroke="#000" stroke-width="1.11"/>
<line x1="684.5" y1="49.5" x2="684.5" y2="44.64" stroke="#000" stroke-width="1.11"/>
<text x="683.4" y="684.9" font-size="13.89" text-anchor="middle" fill="#000" letter-spacing="-0.3">30</text>
<line x1="755.5" y1="665.5" x2="755.5" y2="670.36" stroke="#000" stroke-width="1.11"/>
<line x1="755.5" y1="49.5" x2="755.5" y2="44.64" stroke="#000" stroke-width="1.11"/>
<text x="755.2" y="684.9" font-size="13.89" text-anchor="middle" fill="#000" letter-spacing="-0.3">40</text>
<line x1="826.5" y1="665.5" x2="826.5" y2="670.36" stroke="#000" stroke-width="1.11"/>
<line x1="826.5" y1="49.5" x2="826.5" y2="44.64" stroke="#000" stroke-width="1.11"/>
<text x="826.2" y="684.9" font-size="13.89" text-anchor="middle" fill="#000" letter-spacing="-0.3">50</text>
<line x1="188.5" y1="49.5" x2="183.64" y2="49.5" stroke="#000" stroke-width="1.11"/>
<line x1="826.5" y1="49.5" x2="831.36" y2="49.5" stroke="#000" stroke-width="1.11"/>
<text x="177.2" y="54.1" font-size="13.89" text-anchor="end" fill="#000" letter-spacing="-0.42">100</text>
<line x1="188.5" y1="155.5" x2="183.64" y2="155.5" stroke="#000" stroke-width="1.11"/>
<line x1="826.5" y1="155.5" x2="831.36" y2="155.5" stroke="#000" stroke-width="1.11"/>
<line x1="188.5" y1="230.5" x2="183.64" y2="230.5" stroke="#000" stroke-width="1.11"/>
<line x1="826.5" y1="230.5" x2="831.36" y2="230.5" stroke="#000" stroke-width="1.11"/>
<text x="177.2" y="235.69" font-size="13.89" text-anchor="end" fill="#000" letter-spacing="-0.42">200</text>
<line x1="188.5" y1="289.5" x2="183.64" y2="289.5" stroke="#000" stroke-width="1.11"/>
<line x1="826.5" y1="289.5" x2="831.36" y2="289.5" stroke="#000" stroke-width="1.11"/>
<line x1="188.5" y1="336.5" x2="183.64" y2="336.5" stroke="#000" stroke-width="1.11"/>
<line x1="826.5" y1="336.5" x2="831.36" y2="336.5" stroke="#000" stroke-width="1.11"/>
<text x="177.2" y="341.91" font-size="13.89" text-anchor="end" fill="#000" letter-spacing="-0.42">300</text>
<line x1="188.5" y1="377.5" x2="183.64" y2="377.5" stroke="#000" stroke-width="1.11"/>
<line x1="826.5" y1="377.5" x2="831.36" y2="377.5" stroke="#000" stroke-width="1.11"/>
<line x1="188.5" y1="412.5" x2="183.64" y2="412.5" stroke="#000" stroke-width="1.11"/>
<line x1="826.5" y1="412.5" x2="831.36" y2="412.5" stroke="#000" stroke-width="1.11"/>
<text x="177.2" y="417.27" font-size="13.89" text-anchor="end" fill="#000" letter-spacing="-0.42">400</text>
<line x1="188.5" y1="443.5" x2="183.64" y2="443.5" stroke="#000" stroke-width="1.11"/>
<line x1="826.5" y1="443.5" x2="831.36" y2="443.5" stroke="#000" stroke-width="1.11"/>
<line x1="188.5" y1="470.5" x2="183.64" y2="470.5" stroke="#000" stroke-width="1.11"/>
<line x1="826.5" y1="470.5" x2="831.36" y2="470.5" stroke="#000" stroke-width="1.11"/>
<text x="177.2" y="475.73" font-size="13.89" text-anchor="end" fill="#000" letter-spacing="-0.42">500</text>
<line x1="188.5" y1="495.5" x2="183.64" y2="495.5" stroke="#000" stroke-width="1.11"/>
<line x1="826.5" y1="495.5" x2="831.36" y2="495.5" stroke="#000" stroke-width="1.11"/>
<line x1="188.5" y1="518.5" x2="183.64" y2="518.5" stroke="#000" stroke-width="1.11"/>
<line x1="826.5" y1="518.5" x2="831.36" y2="518.5" stroke="#000" stroke-width="1.11"/>
<text x="177.2" y="523.5" font-size="13.89" text-anchor="end" fill="#000" letter-spacing="-0.42">600</text>
<line x1="188.5" y1="539.5" x2="183.64" y2="539.5" stroke="#000" stroke-width="1.11"/>
<line x1="826.5" y1="539.5" x2="831.36" y2="539.5" stroke="#000" stroke-width="1.11"/>
<line x1="188.5" y1="558.5" x2="183.64" y2="558.5" stroke="#000" stroke-width="1.11"/>
<line x1="826.5" y1="558.5" x2="831.36" y2="558.5" stroke="#000" stroke-width="1.11"/>
<text x="177.2" y="563.88" font-size="13.89" text-anchor="end" fill="#000" letter-spacing="-0.42">700</text>
<line x1="188.5" y1="576.5" x2="183.64" y2="576.5" stroke="#000" stroke-width="1.11"/>
<line x1="826.5" y1="576.5" x2="831.36" y2="576.5" stroke="#000" stroke-width="1.11"/>
<line x1="188.5" y1="593.5" x2="183.64" y2="593.5" stroke="#000" stroke-width="1.11"/>
<line x1="826.5" y1="593.5" x2="831.36" y2="593.5" stroke="#000" stroke-width="1.11"/>
<text x="177.2" y="598.86" font-size="13.89" text-anchor="end" fill="#000" letter-spacing="-0.42">800</text>
<line x1="188.5" y1="609.5" x2="183.64" y2="609.5" stroke="#000" stroke-width="1.11"/>
<line x1="826.5" y1="609.5" x2="831.36" y2="609.5" stroke="#000" stroke-width="1.11"/>
<line x1="188.5" y1="624.5" x2="183.64" y2="624.5" stroke="#000" stroke-width="1.11"/>
<line x1="826.5" y1="624.5" x2="831.36" y2="624.5" stroke="#000" stroke-width="1.11"/>
<text x="177.2" y="629.72" font-size="13.89" text-anchor="end" fill="#000" letter-spacing="-0.42">900</text>
<line x1="188.5" y1="638.5" x2="183.64" y2="638.5" stroke="#000" stroke-width="1.11"/>
<line x1="826.5" y1="638.5" x2="831.36" y2="638.5" stroke="#000" stroke-width="1.11"/>
<line x1="188.5" y1="652.5" x2="183.64" y2="652.5" stroke="#000" stroke-width="1.11"/>
<line x1="826.5" y1="652.5" x2="831.36" y2="652.5" stroke="#000" stroke-width="1.11"/>
<text x="177.2" y="657.32" font-size="13.89" text-anchor="end" fill="#000" letter-spacing="-0.42">1000</text>
<line x1="188.5" y1="665.5" x2="183.64" y2="665.5" stroke="#000" stroke-width="1.11"/>
<line x1="826.5" y1="665.5" x2="831.36" y2="665.5" stroke="#000" stroke-width="1.11"/>
<text x="507.3" y="706.3" font-size="16.67" text-anchor="middle" fill="#000">Temperature (°C)</text>
<text transform="translate(134.3 357.5) rotate(-90)" font-size="16.67" text-anchor="middle">Pressure (hPa)</text>
<text x="507.2" y="40.1" font-size="13.89" text-anchor="middle" fill="#000" font-weight="bold">HRRR Sounding at KDKB Init: 08z Oct 17 [F001] valid 09z Oct 17 2025</text>
<g fill="#000" stroke="#000" stroke-width="1" stroke-linejoin="miter" shape-rendering="crispEdges">
<polygon points="859.55,50.56 834.85,46.64 833.33,36.28 834.85,46.64 837.94,47.13 836.42,36.77 837.94,47.13 841.03,47.62 839.5,37.26 841.03,47.62"/>
<polygon points="859.58,108.8 834.82,105.32 839.31,95.85 841.01,106.19"/>
<polygon points="859.7,154.82 834.7,154.82 837.83,144.82 840.95,154.82 844.08,154.82 840.95,144.82 844.08,154.82"/>
<polygon points="859.7,195.2 834.7,195.2 837.83,185.2 840.95,195.2 844.08,195.2 840.95,185.2 844.08,195.2"/>
<polygon points="859.7,230.4 834.7,229.97 838,220.02 840.95,230.08 844.08,230.13 842.6,225.11 844.08,230.13"/>
<polygon points="859.7,261.04 834.7,261.04 837.83,251.04 840.95,261.04 844.08,261.04 842.51,256.04 844.08,261.04"/>
<polygon points="859.7,288.64 834.7,288.64 837.83,278.64 840.95,288.64 844.08,288.64 842.51,283.64 844.08,288.64"/>
<polygon points="859.7,313.61 834.7,313.61 831.58,303.61 834.7,313.61 837.83,313.61 834.7,303.61 837.83,313.61 840.95,313.61 837.83,303.61 840.95,313.61 844.08,313.61 842.51,308.61 844.08,313.61"/>
<polygon points="859.56,334.56 834.84,338.26 830.27,328.83 834.84,338.26 837.93,337.79 833.36,328.37 837.93,337.79 841.02,337.33 838.73,332.62 841.02,337.33"/>
<polygon points="859.35,354.46 835.05,360.3 829.67,351.3 835.05,360.3 838.08,359.57 832.71,350.57 838.08,359.57 841.12,358.84 838.44,354.34 841.12,358.84"/>
<polygon points="859.09,372.93 835.31,380.65 829.25,372.11 835.31,380.65 838.28,379.69 832.22,371.14 838.28,379.69 841.26,378.72 835.19,370.18 841.26,378.72"/>
<polygon points="859.09,391 835.31,398.73 829.25,390.18 835.31,398.73 838.28,397.76 832.22,389.22 838.28,397.76 841.26,396.8 835.19,388.25 841.26,396.8"/>
<polygon points="859.05,407.81 835.35,415.74 829.21,407.25 835.35,415.74 838.31,414.75 832.17,406.26 838.31,414.75 841.27,413.76 835.14,405.27 841.27,413.76"/>
<polygon points="859.05,438.66 835.35,446.6 829.21,438.1 835.35,446.6 838.31,445.6 832.17,437.11 838.31,445.6 841.27,444.61 835.14,436.12 841.27,444.61"/>
<polygon points="858.83,465.65 835.57,474.81 829,466.65 835.57,474.81 838.48,473.67 831.9,465.51 838.48,473.67 841.38,472.52 834.81,464.36 841.38,472.52"/>
<polygon points="858.41,489.66 835.99,500.74 828.76,493.16 835.99,500.74 838.8,499.35 831.56,491.77 838.8,499.35 841.6,497.97 837.98,494.18 841.6,497.97"/>
<polygon points="858.34,512.32 836.06,523.67 828.74,516.18 836.06,523.67 838.85,522.25 831.52,514.76 838.85,522.25"/>
<polygon points="858.31,533.23 836.09,544.7 828.73,537.24 836.09,544.7 838.87,543.26 831.51,535.81 838.87,543.26"/>
<polygon points="858.51,553.06 835.89,563.7 828.8,555.98 835.89,563.7 838.72,562.37 831.63,554.65 838.72,562.37"/>
<polygon points="858.81,571.81 835.59,581.1 828.98,572.97 835.59,581.1 838.5,579.93 831.88,571.81 838.5,579.93"/>
<polygon points="858.76,588.6 835.64,598.12 828.94,590.07 835.64,598.12 838.53,596.93 831.83,588.88 838.53,596.93"/>
<polygon points="856.71,601.12 837.69,617.36 828.82,611.79 837.69,617.36 840.07,615.33 831.2,609.76 840.07,615.33"/>
<polygon points="849.26,619.07 845.14,643.72 834.76,645.15 845.14,643.72 845.65,640.64 835.27,642.07 845.65,640.64 846.17,637.56 840.98,638.27 846.17,637.56"/>
<polygon points="843.96,635.12 850.44,659.27 841.58,664.87 850.44,659.27"/>
</g>
<g shape-rendering="auto">
<rect x="38" y="103.8" width="1.1" height="6.2" fill="#fff926"/>
<rect x="36" y="150.8" width="2" height="7.1" fill="#808080"/>
<rect x="34" y="192" width="4" height="6" fill="#808080"/>
<rect x="36" y="226.8" width="2" height="6.1" fill="#808080"/>
<rect x="38" y="257.9" width="1.1" height="6" fill="#fff926"/>
<rect x="38" y="285" width="5.1" height="7" fill="#ffe226"/>
<rect x="38" y="310" width="7.1" height="6.8" fill="#ffd726"/>
<rect x="38" y="333.2" width="7.1" height="6.6" fill="#ffd726"/>
<rect x="38" y="353.9" width="6" height="6.9" fill="#ffdd26"/>
<rect x="38" y="372.9" width="5.1" height="6.9" fill="#ffe226"/>
<rect x="38" y="391" width="2" height="6.8" fill="#fff426"/>
<rect x="38" y="408.1" width="1" height="6.7" fill="#fff926"/>
<rect x="37" y="439.1" width="1" height="6.8" fill="#808080"/>
<rect x="36" y="453.2" width="2" height="6.7" fill="#808080"/>
<rect x="36" y="467" width="2" height="6" fill="#808080"/>
<rect x="37" y="480" width="1" height="6" fill="#808080"/>
<rect x="38" y="503" width="2" height="6.9" fill="#fff426"/>
<rect x="38" y="515.1" width="4" height="5.7" fill="#ffe926"/>
<rect x="38" y="525.1" width="6" height="6.7" fill="#ffdd26"/>
<rect x="38" y="535.9" width="7.1" height="5.9" fill="#ffd726"/>
<rect x="38" y="545.2" width="9" height="6.6" fill="#ffcd26"/>
<rect x="38" y="555" width="10.9" height="6.85" fill="#ffc226"/>
<rect x="38" y="564" width="11" height="6.8" fill="#ffc126"/>
<rect x="38" y="573" width="9" height="6.7" fill="#ffcd26"/>
<rect x="38" y="582.1" width="8" height="5.7" fill="#ffd226"/>
<rect x="38" y="590" width="6" height="6.8" fill="#ffdd26"/>
<rect x="38" y="598" width="4" height="6.9" fill="#ffe926"/>
<rect x="37" y="605.8" width="1" height="6" fill="#808080"/>
<rect x="33" y="613.2" width="5" height="6.55" fill="#808080"/>
<rect x="31" y="621.1" width="7" height="5.6" fill="#808080"/>
<rect x="33" y="628.2" width="5" height="6.6" fill="#808080"/>
<rect x="36" y="634.8" width="2" height="7.1" fill="#808080"/>
<rect x="38" y="641.9" width="3" height="6" fill="#ffee26"/>
</g>
<line x1="38.5" y1="665.5" x2="38.5" y2="670.4" stroke="#000" stroke-width="1.11"/>
<text x="39.35" y="681.8" font-size="11.11" text-anchor="middle" fill="#000" letter-spacing="0">0</text>
<line x1="69.5" y1="665.5" x2="69.5" y2="670.4" stroke="#000" stroke-width="1.11"/>
<text x="68.5" y="681.8" font-size="11.11" text-anchor="middle" fill="#000" letter-spacing="-1">−1</text>
<line x1="100.5" y1="665.5" x2="100.5" y2="670.4" stroke="#000" stroke-width="1.11"/>
<text x="99.5" y="681.8" font-size="11.11" text-anchor="middle" fill="#000" letter-spacing="-1">−2</text>
<text x="69.8" y="702.6" font-size="13.89" text-anchor="middle" fill="#000">Omega (Pa/s)</text>
<line x1="23.3" y1="425.4" x2="98.6" y2="425.4" stroke="#ff0000" stroke-width="2.78" stroke-dasharray="8.33 2.78"/>
<line x1="23.3" y1="454.5" x2="98.6" y2="454.5" stroke="#ff0000" stroke-width="2.78" stroke-dasharray="8.33 2.78"/>
<text x="100.2" y="420.4" font-size="11.11" text-anchor="end" fill="#ff0000" font-weight="bold">DGZ</text>
<text x="100.2" y="467.2" font-size="11.11" text-anchor="end" fill="#ff0000" font-weight="bold">DGZ</text>
<rect x="42.6" y="63.4" width="127.7" height="96.5" rx="2.4" ry="2.4" fill="#fff" fill-opacity="0.8" stroke="#cccccc" stroke-width="1.39"/>
<line x1="46.9" y1="72.5" x2="69.9" y2="72.5" stroke="#006400" stroke-width="1.04" stroke-dasharray="1.04 1.72" stroke-opacity="0.62"/>
<text x="78.3" y="75.8" font-size="11.11" text-anchor="start" fill="#000" letter-spacing="-0.03">Sat. Mix. Ratio</text>
<line x1="46.9" y1="87.5" x2="69.9" y2="87.5" stroke="#b22222" stroke-width="0.9" stroke-opacity="0.45"/>
<text x="78.3" y="90.85" font-size="11.11" text-anchor="start" fill="#000" letter-spacing="-0.03">Dry Adiabats</text>
<line x1="46.9" y1="103.5" x2="69.9" y2="103.5" stroke="#1a1ab4" stroke-width="1" stroke-opacity="0.4"/>
<text x="78.3" y="106.7" font-size="11.11" text-anchor="start" fill="#000" letter-spacing="-0.13">Pseudoadiabats</text>
<line x1="46.9" y1="119.5" x2="69.9" y2="119.5" stroke="#0000ff" stroke-width="1.39"/>
<text x="78.3" y="121.75" font-size="11.11" text-anchor="start" fill="#000" letter-spacing="-0.2">Wetbulb</text>
<line x1="47.2" y1="134.5" x2="69.4" y2="134.5" stroke="#009900" stroke-width="2.78" stroke-linecap="square"/>
<text x="78.3" y="137.8" font-size="11.11" text-anchor="start" fill="#000" letter-spacing="-0.1">Dewpoint</text>
<line x1="47.2" y1="150.5" x2="69.4" y2="150.5" stroke="#ff0000" stroke-width="2.78" stroke-linecap="square"/>
<text x="78.3" y="153.7" font-size="11.11" text-anchor="start" fill="#000" letter-spacing="-0.02">Temperature</text>
<defs><clipPath id="ch"><rect x="876.5" y="49.5" width="220" height="188"/></clipPath></defs>
<g clip-path="url(#ch)" fill="none">
<ellipse cx="905.5" cy="171.5" rx="29.25" ry="25.56" stroke="#808080" stroke-opacity="0.6" stroke-width="0.8" stroke-dasharray="1.1 2.58"/>
<ellipse cx="905.5" cy="171.5" rx="58.5" ry="51.12" stroke="#808080" stroke-opacity="0.6" stroke-width="0.8" stroke-dasharray="1.1 2.58"/>
<ellipse cx="905.5" cy="171.5" rx="87.75" ry="76.68" stroke="#808080" stroke-opacity="0.6" stroke-width="0.8" stroke-dasharray="1.1 2.58"/>
<ellipse cx="905.5" cy="171.5" rx="117" ry="102.24" stroke="#808080" stroke-opacity="0.6" stroke-width="0.8" stroke-dasharray="1.1 2.58"/>
<ellipse cx="905.5" cy="171.5" rx="146.25" ry="127.8" stroke="#808080" stroke-opacity="0.6" stroke-width="0.8" stroke-dasharray="1.1 2.58"/>
<ellipse cx="905.5" cy="171.5" rx="175.5" ry="153.36" stroke="#808080" stroke-opacity="0.6" stroke-width="0.8" stroke-dasharray="1.1 2.58"/>
<ellipse cx="905.5" cy="171.5" rx="204.75" ry="178.92" stroke="#808080" stroke-opacity="0.6" stroke-width="0.8" stroke-dasharray="1.1 2.58"/>
<ellipse cx="905.5" cy="171.5" rx="234" ry="204.48" stroke="#808080" stroke-opacity="0.6" stroke-width="0.8" stroke-dasharray="1.1 2.58"/>
<ellipse cx="905.5" cy="171.5" rx="263.25" ry="230.04" stroke="#808080" stroke-opacity="0.6" stroke-width="0.8" stroke-dasharray="1.1 2.58"/>
<ellipse cx="905.5" cy="171.5" rx="292.5" ry="255.6" stroke="#808080" stroke-opacity="0.6" stroke-width="0.8" stroke-dasharray="1.1 2.58"/>
<ellipse cx="905.5" cy="171.5" rx="321.75" ry="281.16" stroke="#808080" stroke-opacity="0.6" stroke-width="0.8" stroke-dasharray="1.1 2.58"/>
<ellipse cx="905.5" cy="171.5" rx="351" ry="306.72" stroke="#808080" stroke-opacity="0.6" stroke-width="0.8" stroke-dasharray="1.1 2.58"/>
<line x1="876.5" y1="171.5" x2="1096.5" y2="171.5" stroke="#000" stroke-width="1" stroke-opacity="0.85"/>
<line x1="905.5" y1="49.5" x2="905.5" y2="237.5" stroke="#000" stroke-width="1" stroke-opacity="0.85"/>
</g>
<text x="934.75" y="188.4" font-size="11.11" text-anchor="middle" fill="#808080" letter-spacing="-0.3">10</text>
<text x="964" y="188.4" font-size="11.11" text-anchor="middle" fill="#808080" letter-spacing="-0.3">20</text>
<text x="993.25" y="188.4" font-size="11.11" text-anchor="middle" fill="#808080" letter-spacing="-0.3">30</text>
<text x="1022.5" y="188.4" font-size="11.11" text-anchor="middle" fill="#808080" letter-spacing="-0.3">40</text>
<text x="1051.75" y="188.4" font-size="11.11" text-anchor="middle" fill="#808080" letter-spacing="-0.3">50</text>
<text x="1081" y="188.4" font-size="11.11" text-anchor="middle" fill="#808080" letter-spacing="-0.3">60</text>
<g clip-path="url(#ch)" fill="none" stroke-linejoin="round">
<path d="M896.7 148 L895.2 143 L892.8 121.2 L904.1 98.9 L916.9 113.4 L926.1 127.2 L937.4 131.8 L947 137.6 L954 143 L958 147 L962.5 150.4 L958.5 150.3 L954.5 149" fill="none" stroke="#ff0000" stroke-width="2.08"/>
<path d="M954.5 149 L958.3 148.3 L964.3 145.1 L971 142.3 L978.9 140.7 L985 140.9 L992.8 142.8" fill="none" stroke="#2ca02c" stroke-width="2.08"/>
<path d="M992.8 142.8 L989.5 146.5 L984.5 149.6 L980.3 153.6 L977 157.3" fill="none" stroke="#ba30c8" stroke-width="2.08"/>
<path d="M977 157.3 L979.6 161.4 L1009.8 169.9 L1064.2 171.1" fill="none" stroke="#0000ff" stroke-width="2.08"/>
</g>
<rect x="933.9" y="126" width="7" height="10.6" fill="#fff"/>
<rect x="959.1" y="144.6" width="7" height="10.6" fill="#fff"/>
<rect x="951.1" y="143.2" width="7" height="10.6" fill="#fff"/>
<rect x="989.3" y="137" width="7" height="10.6" fill="#fff"/>
<rect x="973.5" y="151.5" width="7" height="10.6" fill="#fff"/>
<text x="937.4" y="135.85" font-size="11.11" text-anchor="middle" fill="#000">1</text>
<text x="962.6" y="154.45" font-size="11.11" text-anchor="middle" fill="#000">2</text>
<text x="954.6" y="153.05" font-size="11.11" text-anchor="middle" fill="#000">3</text>
<text x="992.8" y="146.85" font-size="11.11" text-anchor="middle" fill="#000">6</text>
<text x="977" y="161.35" font-size="11.11" text-anchor="middle" fill="#000">9</text>
<ellipse cx="946.3" cy="101.7" rx="8.4" ry="7.2" fill="#fff" stroke="#000" stroke-width="1.39"/>
<text transform="translate(946.3 105.05) scale(0.8 1)" font-size="9.2" text-anchor="middle" font-family="'DejaVu Sans Condensed','DejaVu Sans','Liberation Sans',sans-serif">LM</text>
<ellipse cx="951" cy="175.2" rx="8.4" ry="7.2" fill="#fff" stroke="#000" stroke-width="1.39"/>
<text transform="translate(951 178.55) scale(0.8 1)" font-size="9.2" text-anchor="middle" font-family="'DejaVu Sans Condensed','DejaVu Sans','Liberation Sans',sans-serif">RM</text>
<rect x="876.5" y="49.5" width="220" height="188" fill="none" stroke="#000" stroke-width="1.11"/>
<text x="985.6" y="251" font-size="11.11" text-anchor="middle" fill="#000">Hodograph (wind in kt, height in km)</text>
<text x="986.9" y="36.2" font-size="15.28" text-anchor="middle" fill="#808080" font-weight="bold">TROPICALTIDBITS.COM</text>
<text x="877.3" y="285.9" font-size="13.89" fill="#9a2ea0" font-family="'DejaVu Sans Mono','Liberation Mono',monospace" letter-spacing="-0.04" xml:space="preserve">SRH 0-1km:      146</text>
<text y="285.9" font-size="13.89" fill="#9a2ea0" font-style="italic"><tspan x="1044.64">m</tspan><tspan x="1058.44" dy="-5.35" font-size="9.72" font-style="normal">2</tspan><tspan x="1065.14" dy="5.35">s</tspan><tspan x="1073.14" dy="-5.35" font-size="9.72" font-style="normal">−2</tspan></text>
<text x="877.3" y="303" font-size="13.89" fill="#000" font-family="'DejaVu Sans Mono','Liberation Mono',monospace" letter-spacing="-0.04" xml:space="preserve">SRH 0-3km:      170</text>
<text y="303" font-size="13.89" fill="#000" font-style="italic"><tspan x="1044.64">m</tspan><tspan x="1058.44" dy="-5.35" font-size="9.72" font-style="normal">2</tspan><tspan x="1065.14" dy="5.35">s</tspan><tspan x="1073.14" dy="-5.35" font-size="9.72" font-style="normal">−2</tspan></text>
<text x="876.25" y="322" font-size="13.89" fill="#000" font-family="'DejaVu Sans Mono','Liberation Mono',monospace" letter-spacing="0" xml:space="preserve">SBCAPE:           0 J/kg</text>
<text x="876.25" y="339.4" font-size="13.89" fill="#000" font-family="'DejaVu Sans Mono','Liberation Mono',monospace" letter-spacing="0" xml:space="preserve">MLCAPE:           0 J/kg</text>
<text x="876.25" y="356.8" font-size="13.89" fill="#000" font-family="'DejaVu Sans Mono','Liberation Mono',monospace" letter-spacing="0" xml:space="preserve">MUCAPE:           0 J/kg</text>
<text x="876.25" y="374.2" font-size="13.89" fill="#000" font-family="'DejaVu Sans Mono','Liberation Mono',monospace" letter-spacing="0" xml:space="preserve">SBCIN:            0 J/kg</text>
<text x="876.25" y="391.6" font-size="13.89" fill="#000" font-family="'DejaVu Sans Mono','Liberation Mono',monospace" letter-spacing="0" xml:space="preserve">MLCIN:            0 J/kg</text>
<text x="876.25" y="409" font-size="13.89" fill="#000" font-family="'DejaVu Sans Mono','Liberation Mono',monospace" letter-spacing="0" xml:space="preserve">DCAPE:            0 J/kg</text>
<text x="876.25" y="427.1" font-size="13.89" fill="#a52a2a" font-family="'DejaVu Sans Mono','Liberation Mono',monospace" letter-spacing="0" xml:space="preserve">SHR 200-850mb:   42 kt</text>
<text x="876.25" y="444.2" font-size="13.89" fill="#000" font-family="'DejaVu Sans Mono','Liberation Mono',monospace" letter-spacing="0" xml:space="preserve">RH 300-850mb:    59 %</text>
<text x="876.25" y="462.1" font-size="13.89" fill="#000" font-family="'DejaVu Sans Mono','Liberation Mono',monospace" letter-spacing="0" xml:space="preserve">PWAT:          1.27 in</text>
<defs><clipPath id="ct"><rect x="892.5" y="500.5" width="204" height="165"/></clipPath></defs>
<rect x="892.5" y="500.5" width="204" height="165" fill="none" stroke="#000" stroke-width="1.11"/>
<line x1="892.5" y1="522.5" x2="897.36" y2="522.5" stroke="#000" stroke-width="1.11"/>
<text x="902" y="526" font-size="11.11" text-anchor="start" fill="#000" letter-spacing="-0.25">400</text>
<line x1="892.5" y1="566.5" x2="897.36" y2="566.5" stroke="#000" stroke-width="1.11"/>
<text x="902" y="570" font-size="11.11" text-anchor="start" fill="#000" letter-spacing="-0.25">600</text>
<line x1="892.5" y1="610.5" x2="897.36" y2="610.5" stroke="#000" stroke-width="1.11"/>
<text x="902" y="614" font-size="11.11" text-anchor="start" fill="#000" letter-spacing="-0.25">800</text>
<line x1="892.5" y1="654.5" x2="897.36" y2="654.5" stroke="#000" stroke-width="1.11"/>
<line x1="906.5" y1="665.5" x2="906.5" y2="660.64" stroke="#000" stroke-width="1.11"/>
<text x="906.3" y="655.2" font-size="11.11" text-anchor="middle" fill="#000" letter-spacing="-0.25">300</text>
<line x1="953.5" y1="665.5" x2="953.5" y2="660.64" stroke="#000" stroke-width="1.11"/>
<text x="953.3" y="655.2" font-size="11.11" text-anchor="middle" fill="#000" letter-spacing="-0.25">310</text>
<line x1="1000.5" y1="665.5" x2="1000.5" y2="660.64" stroke="#000" stroke-width="1.11"/>
<text x="1000.3" y="655.2" font-size="11.11" text-anchor="middle" fill="#000" letter-spacing="-0.25">320</text>
<line x1="1047.5" y1="665.5" x2="1047.5" y2="660.64" stroke="#000" stroke-width="1.11"/>
<text x="1047.3" y="655.2" font-size="11.11" text-anchor="middle" fill="#000" letter-spacing="-0.25">330</text>
<line x1="1094.5" y1="665.5" x2="1094.5" y2="660.64" stroke="#000" stroke-width="1.11"/>
<text x="1094.3" y="655.2" font-size="11.11" text-anchor="middle" fill="#000" letter-spacing="-0.25">340</text>
<text x="993.7" y="677.6" font-size="11.11" text-anchor="middle" fill="#000">Equivalent Pot. Temperature (K)</text>
<g clip-path="url(#ct)" fill="none" stroke-linejoin="round">
<path d="M1072.85 496.35 L1065.6 500.9 L1051.1 510 L1049 516.4 L1048.4 524.9 L1045.2 531.4 L1038.3 537.8 L1034 544.2 L1032.1 549.3 L1035.6 554.9 L1038.8 560.2 L1040.4 566.1 L1040.6 571.5 L1040.4 577.5 L1038.3 582.8 L1035.6 588 L1037.2 593.5 L1041 598.3 L1049.5 604.2 L1050 609.6 L1032.9 620.3 L1028.7 631.5 L1011 636.8 L980.8 642.2 L961.5 646 L939.7 650.4" fill="none" stroke="#2e9ab5" stroke-width="2.78"/>
</g>
<text transform="translate(884.3 582.5) rotate(-90)" font-size="11.11" text-anchor="middle">Pressure (hPa)</text>
</svg>
</body></html>
